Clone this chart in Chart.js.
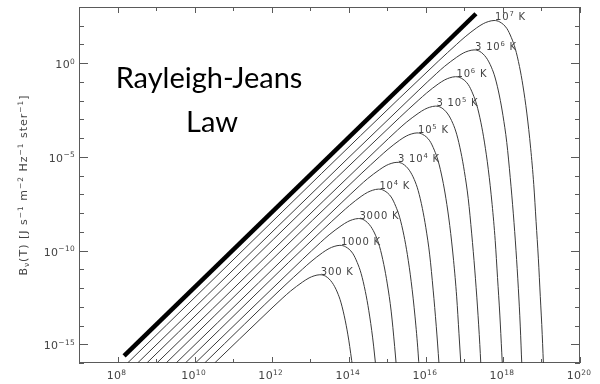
<!DOCTYPE html>
<html><head><meta charset="utf-8">
<script src="https://cdn.jsdelivr.net/npm/chart.js@4.4.0/dist/chart.umd.min.js"></script>
<style>html,body{margin:0;padding:0;background:#fff}</style>
</head><body>
<canvas id="c" width="600" height="384"></canvas>
<script>
// Curve labels (temperatures); ^{..} marks a superscript
const curveLabels = ['300 K','1000 K','3000 K','10^{4} K','3 10^{4} K','10^{5} K','3 10^{5} K','10^{6} K','3 10^{6} K','10^{7} K'];

// Each curve: [log10 ν (Hz), log10 Bν] pairs
const curve300 = [[10.52,-16],[11.80,-13.47],[12.27,-12.56],[12.49,-12.16],[12.80,-11.68],[12.97,-11.46],[13.10,-11.35],[13.25,-11.29],[13.40,-11.37],[13.57,-11.71],[13.70,-12.21],[13.80,-12.79],[13.91,-13.75],[14.00,-14.78],[14.10,-16.23]];
const curve1000 = [[10.26,-16],[12.32,-11.90],[12.80,-10.99],[13.02,-10.59],[13.32,-10.11],[13.49,-9.89],[13.62,-9.78],[13.77,-9.72],[13.92,-9.80],[14.10,-10.14],[14.22,-10.64],[14.32,-11.22],[14.43,-12.18],[14.52,-13.21],[14.62,-14.66],[14.72,-16.54]];
const curve3000 = [[10.02,-16],[12.80,-10.47],[13.27,-9.56],[13.49,-9.16],[13.80,-8.68],[13.97,-8.46],[14.10,-8.35],[14.25,-8.29],[14.40,-8.37],[14.57,-8.71],[14.70,-9.21],[14.80,-9.79],[14.91,-10.75],[15.00,-11.78],[15.10,-13.23],[15.19,-15.11],[15.27,-17.04]];
const curve1e4 = [[9.76,-16],[13.32,-8.90],[13.80,-7.99],[14.02,-7.59],[14.32,-7.11],[14.49,-6.89],[14.62,-6.78],[14.77,-6.72],[14.92,-6.80],[15.10,-7.14],[15.22,-7.64],[15.32,-8.22],[15.43,-9.18],[15.52,-10.21],[15.62,-11.66],[15.72,-13.54],[15.80,-15.47],[15.86,-17.44]];
const curve3e4 = [[9.52,-16],[13.80,-7.47],[14.27,-6.56],[14.49,-6.16],[14.80,-5.68],[14.97,-5.46],[15.10,-5.35],[15.25,-5.29],[15.40,-5.37],[15.57,-5.71],[15.70,-6.21],[15.80,-6.79],[15.91,-7.75],[16.00,-8.78],[16.10,-10.23],[16.19,-12.11],[16.27,-14.04],[16.34,-16.01],[16.40,-18.01]];
const curve1e5 = [[9.26,-16],[14.32,-5.90],[14.80,-4.99],[15.02,-4.59],[15.32,-4.11],[15.49,-3.89],[15.62,-3.78],[15.77,-3.72],[15.92,-3.80],[16.10,-4.14],[16.22,-4.64],[16.32,-5.22],[16.43,-6.18],[16.52,-7.21],[16.62,-8.66],[16.72,-10.54],[16.80,-12.47],[16.86,-14.44],[16.92,-16.44]];
const curve3e5 = [[9.02,-16],[14.80,-4.47],[15.27,-3.56],[15.49,-3.16],[15.80,-2.68],[15.97,-2.46],[16.10,-2.35],[16.25,-2.29],[16.40,-2.37],[16.57,-2.71],[16.70,-3.21],[16.80,-3.79],[16.91,-4.75],[17.00,-5.78],[17.10,-7.23],[17.19,-9.11],[17.27,-11.04],[17.34,-13.01],[17.40,-15.01],[17.45,-17.03]];
const curve1e6 = [[8.76,-16],[15.32,-2.90],[15.80,-1.99],[16.02,-1.59],[16.32,-1.11],[16.49,-0.89],[16.62,-0.78],[16.77,-0.72],[16.92,-0.80],[17.10,-1.14],[17.22,-1.64],[17.32,-2.22],[17.43,-3.18],[17.52,-4.21],[17.62,-5.66],[17.72,-7.54],[17.80,-9.47],[17.86,-11.44],[17.92,-13.44],[17.97,-15.46],[18.02,-17.49]];
const curve3e6 = [[8.52,-16],[15.80,-1.47],[16.27,-0.56],[16.49,-0.16],[16.80,0.32],[16.97,0.54],[17.10,0.65],[17.25,0.71],[17.40,0.63],[17.57,0.29],[17.70,-0.21],[17.80,-0.79],[17.91,-1.75],[18.00,-2.78],[18.10,-4.23],[18.19,-6.11],[18.27,-8.04],[18.34,-10.01],[18.40,-12.01],[18.45,-14.03],[18.49,-16.06],[18.54,-18.11]];
const curve1e7 = [[8.26,-16],[16.32,0.10],[16.80,1.01],[17.02,1.41],[17.32,1.89],[17.49,2.11],[17.62,2.22],[17.77,2.28],[17.92,2.20],[18.10,1.86],[18.22,1.36],[18.32,0.78],[18.43,-0.18],[18.52,-1.21],[18.62,-2.66],[18.72,-4.54],[18.80,-6.47],[18.86,-8.44],[18.92,-10.44],[18.97,-12.46],[19.02,-14.49],[19.06,-16.54]];

// Thick Rayleigh-Jeans overlay line: [log10 ν, log10 Bν]
const rayleighJeansLine = [[8.17,-15.62],[17.30,2.64]];

// Axes
const xTickValues = [1e7,1e8,1e9,1e10,1e11,1e12,1e13,1e14,1e15,1e16,1e17,1e18,1e19,1e20];
const xLabelValues = [1e8,1e10,1e12,1e14,1e16,1e18,1e20];
const xTickLabels = ['10^{8}','10^{10}','10^{12}','10^{14}','10^{16}','10^{18}','10^{20}'];
const yTickValues = [1e-16,1e-15,1e-14,1e-13,1e-12,1e-11,1e-10,1e-9,1e-8,1e-7,1e-6,1e-5,1e-4,1e-3,1e-2,1e-1,1,10,100,1000];
const yLabelValues = [1e-15,1e-10,1e-5,1];
const yTickLabels = ['10^{−15}','10^{−10}','10^{−5}','10^{0}'];
const yTitle = 'B_{ν}(T) [J s^{−1} m^{−2} Hz^{−1} ster^{−1}]';
const annotationLines = ['Rayleigh-Jeans','Law'];

const curves = [curve300,curve1000,curve3000,curve1e4,curve3e4,curve1e5,curve3e5,curve1e6,curve3e6,curve1e7];
const toPts = arr => arr.map(([a,b]) => ({x: Math.pow(10,a), y: Math.pow(10,b)}));

const datasets = curves.map((c,i) => ({
  label: curveLabels[i].replace(/\^\{([^}]*)\}/g,'^$1'), data: toPts(c),
  borderColor:'#3a3a3a', borderWidth:1, pointRadius:0, fill:false,
  cubicInterpolationMode:'monotone'
}));
datasets.push({label:'Rayleigh-Jeans', data: toPts(rayleighJeansLine),
  borderColor:'#000', borderWidth:4.5, pointRadius:0, fill:false, borderCapStyle:'butt'});

// rich text: ^{..} superscript, _{..} subscript
function parseRich(s){
  const out=[]; const re=/(\^|_)\{([^}]*)\}/g; let last=0, m;
  while((m = re.exec(s))){
    if(m.index > last) out.push({t:s.slice(last,m.index), k:'n'});
    out.push({t:m[2], k: m[1]==='^' ? 'sup' : 'sub'});
    last = re.lastIndex;
  }
  if(last < s.length) out.push({t:s.slice(last), k:'n'});
  return out;
}
function drawRich(ctx, s, x, y, size, align, family){
  const parts = parseRich(s), small = size*0.68;
  const fN = size+'px "'+family+'"', fS = small+'px "'+family+'"';
  let w = 0;
  parts.forEach(p => { ctx.font = p.k==='n' ? fN : fS; p.w = ctx.measureText(p.t).width; w += p.w; });
  let cx = align==='center' ? x - w/2 : align==='right' ? x - w : x;
  ctx.textAlign = 'left'; ctx.textBaseline = 'alphabetic';
  parts.forEach(p => {
    ctx.font = p.k==='n' ? fN : fS;
    const dy = p.k==='sup' ? -size*0.4 : p.k==='sub' ? size*0.22 : 0;
    ctx.fillText(p.t, cx, y + dy);
    cx += p.w;
  });
}

const framePlugin = {
  id:'frame',
  beforeDatasetsDraw(chart){
    const {ctx, chartArea:a, scales:{x,y}} = chart;
    ctx.save();
    ctx.strokeStyle = '#5a5a5a'; ctx.lineWidth = 1;
    ctx.strokeRect(a.left+0.5, a.top+0.5, a.right-a.left-1, a.bottom-a.top-1);
    ctx.beginPath();
    xTickValues.forEach(v => {
      const px = Math.round(x.getPixelForValue(v))+0.5;
      const len = xLabelValues.includes(v) ? 6 : 4;
      ctx.moveTo(px,a.bottom); ctx.lineTo(px,a.bottom-len);
      ctx.moveTo(px,a.top); ctx.lineTo(px,a.top+len);
    });
    yTickValues.forEach(v => {
      const py = Math.round(y.getPixelForValue(v))+0.5;
      const len = yLabelValues.includes(v) ? 9 : 5;
      ctx.moveTo(a.left,py); ctx.lineTo(a.left+len,py);
      ctx.moveTo(a.right,py); ctx.lineTo(a.right-len,py);
    });
    ctx.stroke();
    // tick labels
    ctx.fillStyle = '#444';
    ctx.letterSpacing = '0.3px';
    xLabelValues.forEach((v,i) => {
      drawRich(ctx, xTickLabels[i], x.getPixelForValue(v) - 1, a.bottom + 16, 11, 'center', 'DejaVu Sans');
    });
    yLabelValues.forEach((v,i) => {
      drawRich(ctx, yTickLabels[i], a.left - 4, y.getPixelForValue(v) + 5, 11, 'right', 'DejaVu Sans');
    });
    // y axis title
    ctx.letterSpacing = '1px';
    ctx.translate(23, (a.top + a.bottom)/2);
    ctx.rotate(-Math.PI/2);
    drawRich(ctx, yTitle, 0, 4, 11, 'center', 'DejaVu Sans');
    ctx.restore();
  },
  afterDatasetsDraw(chart){
    const {ctx, scales:{x,y}} = chart;
    ctx.save();
    ctx.fillStyle = '#444';
    ctx.letterSpacing = '0.8px';
    curves.forEach((c,i) => {
      let peak = c[0];
      c.forEach(p => { if (p[1] > peak[1]) peak = p; });
      const px = x.getPixelForValue(Math.pow(10,peak[0])) + 1;
      const py = y.getPixelForValue(Math.pow(10,peak[1]));
      drawRich(ctx, curveLabels[i], px, py, 10, 'left', 'DejaVu Sans');
    });
    ctx.restore();
  },
  afterDraw(chart){
    const ctx = chart.ctx;
    ctx.save();
    ctx.letterSpacing = '0px';
    ctx.font = '29px Lato';
    ctx.fillStyle = '#000';
    ctx.textAlign = 'center'; ctx.textBaseline = 'alphabetic';
    ctx.fillText(annotationLines[0], 209, 88);
    ctx.fillText(annotationLines[1], 212, 132);
    ctx.restore();
  }
};

new Chart(document.getElementById('c'), {
  type:'line',
  data:{datasets},
  plugins:[framePlugin],
  options:{
    responsive:false, animation:false, devicePixelRatio:1,
    layout:{padding:{top:7,right:20,left:0,bottom:0}},
    plugins:{legend:{display:false}, tooltip:{enabled:false}},
    scales:{
      x:{type:'logarithmic', min:1e7, max:1e20,
        grid:{display:false}, border:{display:false},
        afterBuildTicks: s => { s.ticks = xTickValues.map(v => ({value:v})); },
        afterFit: s => { s.height = 21; },
        ticks:{display:false}
      },
      y:{type:'logarithmic', min:1e-16, max:1e3,
        grid:{display:false}, border:{display:false},
        afterBuildTicks: s => { s.ticks = yTickValues.map(v => ({value:v})); },
        afterFit: s => { s.width = 79; },
        ticks:{display:false}
      }
    }
  }
});
</script>
</body></html>
